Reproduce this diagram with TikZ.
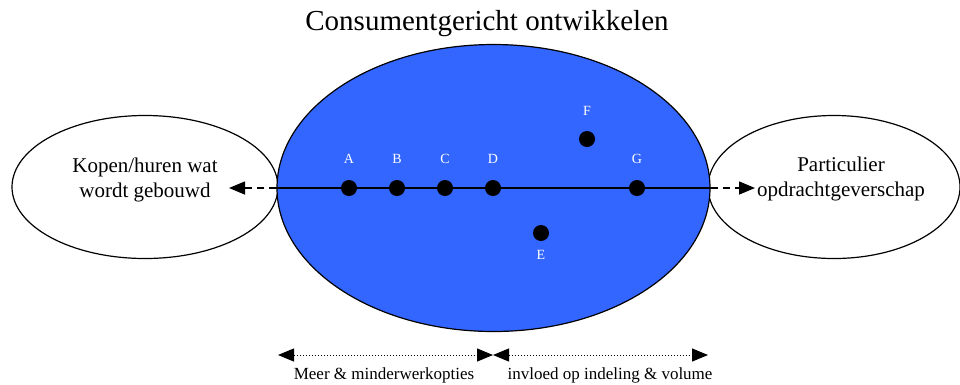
\documentclass[tikz,border=0pt]{standalone}
\usepackage{fontspec}
\setmainfont{Liberation Serif}
\usetikzlibrary{shapes.geometric,arrows.meta}
\definecolor{bigblue}{RGB}{51,102,255}
\begin{document}
\begin{tikzpicture}[x=1pt,y=-1pt,
  oval/.style={draw=black, line width=1.2pt, ellipse, inner sep=0pt},
  dot/.style={circle, fill=black, inner sep=0pt, minimum size=16pt},
  letter/.style={text=white, font=\fontsize{14}{16}\selectfont, inner sep=0pt},
  etext/.style={align=center, font=\fontsize{21}{25}\selectfont, inner sep=0pt},
  blabel/.style={font=\fontsize{17}{20}\selectfont, inner sep=0pt},
  tip/.style={-{Triangle[length=16pt,width=13pt]}},
  dtip/.style={{Triangle[length=16pt,width=13pt]}-{Triangle[length=16pt,width=13pt]}}
]
\useasboundingbox (0,0) rectangle (960,384);
\node[oval, fill=white, minimum width=266pt, minimum height=143pt] (left) at (145,187) {};
\node[oval, fill=white, minimum width=252pt, minimum height=143pt] (right) at (834,187) {};
\node[oval, fill=bigblue, minimum width=433pt, minimum height=287pt] (big) at (493.5,188) {};
\node[font=\fontsize{29}{32}\selectfont, inner sep=0pt] (title) at (487,24) {Consumentgericht ontwikkelen};
\node[etext] (lt) at (145,180) {Kopen/huren wat\\wordt gebouwd};
\node[etext] (rt) at (841,179) {Particulier\\opdrachtgeverschap};
% points
\coordinate (p1) at (325,188);
\node[dot] (A) at (349,188) {};
\node[dot] (B) at (397,188) {};
\node[dot] (C) at (445,188) {};
\node[dot] (D) at (493,188) {};
\node[dot] (G) at (637,188) {};
\node[dot] (F) at (587,139) {};
\node[dot] (E) at (541,233) {};
\node[letter] (lA) at (349,159) {A};
\node[letter] (lB) at (397,159) {B};
\node[letter] (lC) at (445,159) {C};
\node[letter] (lD) at (493,159) {D};
\node[letter] (lG) at (637,159) {G};
\node[letter] (lF) at (587,111) {F};
\node[letter] (lE) at (541,255) {E};
% axis line
\draw[line width=1.3pt] (p1) -- (G.center);
\draw[line width=2.4pt] (big.west) -- (p1);
\draw[line width=2.4pt] (G.center) -- (big.east);
\coordinate (la) at (229,188);
\coordinate (ra) at (755,188);
\draw[line width=1.5pt, dash pattern=on 7pt off 5pt, tip] (big.west) -- (la);
\draw[line width=1.5pt, dash pattern=on 7pt off 5pt, tip] (big.east) -- (ra);
% bottom arrows
\coordinate (b1) at (278,355);
\coordinate (b2) at (493,355);
\coordinate (b3) at (708,355);
\draw[line width=1pt, dotted, dtip] (b1) -- (b2);
\draw[line width=1pt, dotted, dtip] (b2) -- (b3);
\node[blabel] (m1) at (384,375) {Meer \& minderwerkopties};
\node[blabel] (m2) at (610,375) {invloed op indeling \& volume};
\end{tikzpicture}
\end{document}
